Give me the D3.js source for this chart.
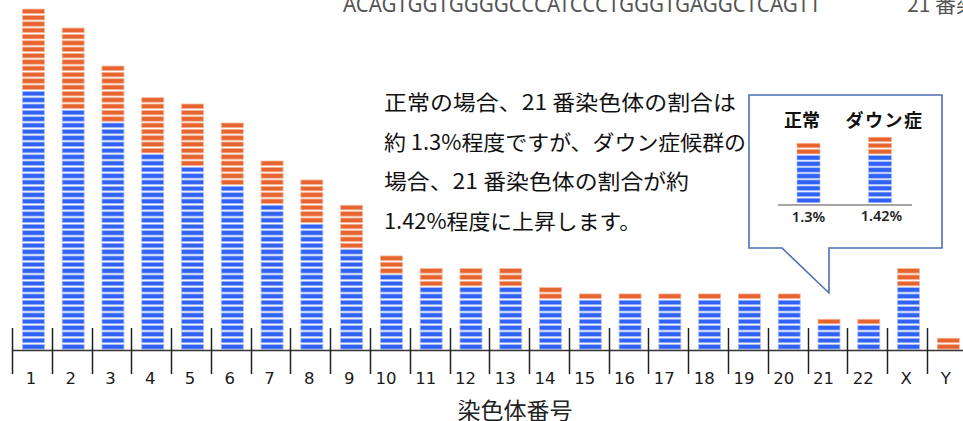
<!DOCTYPE html>
<html><head><meta charset="utf-8">
<script src="https://cdn.jsdelivr.net/npm/d3@7/dist/d3.min.js"></script>
<style>
html,body{margin:0;padding:0;background:#fff;}
svg{display:block;}
</style></head>
<body>
<svg id="chart" width="963" height="421"></svg>
<script>
const categories = ["1","2","3","4","5","6","7","8","9","10","11","12","13","14","15","16","17","18","19","20","21","22","X","Y"];
const blueUnits   = [41,38,36,31,29,26,23,20,16,12,10,10,10,8,8,8,8,8,8,8,4,4,10,0];
const orangeUnits = [13,13,9,9,10,10,7,7,7,3,3,3,3,2,1,1,1,1,1,1,1,1,3,2];
const axisTitle = "染色体番号";
const topSequence = "ACAGTGGTGGGGCCCATCCCTGGGTGAGGCTCAGTT";
const topSuffix = "21 番染色体";
const annotationLines = [
  "正常の場合、21 番染色体の割合は",
  "約 1.3%程度ですが、ダウン症候群の",
  "場合、21 番染色体の割合が約",
  "1.42%程度に上昇します。"
];
const annotationWidths = [352, 362, 305, 257];
const miniCategories = ["正常","ダウン症"];
const miniBlue = [8,8];
const miniOrange = [2,3];
const miniLabels = ["1.3%","1.42%"];

const BLUE = "#3063f5", ORANGE = "#e8642e";
const svg = d3.select("#chart");

// top cut-off text
svg.append("text").attr("x",343).attr("y",11.5).attr("font-family","Noto Sans, sans-serif")
  .attr("font-size",21).attr("fill","#555").attr("textLength",478).attr("lengthAdjust","spacingAndGlyphs")
  .text(topSequence);
svg.append("text").attr("x",907).attr("y",11.5).attr("font-family","Noto Sans CJK JP, Noto Sans, sans-serif")
  .attr("font-size",21).attr("fill","#555").text(topSuffix);

// main scales
const x = d3.scaleBand().domain(categories).range([12, 12 + 24*39.78]).padding(0);
const maxUnits = 54;
const y = d3.scaleLinear().domain([0, maxUnits]).range([350, 350 - maxUnits*6.33]);
const barW = 22;

const rows = [];
categories.forEach((c,i)=>{
  for(let k=0;k<blueUnits[i];k++) rows.push({c, k, color:BLUE});
  for(let k=0;k<orangeUnits[i];k++) rows.push({c, k:blueUnits[i]+k, color:ORANGE});
});
svg.append("g").selectAll("rect").data(rows).join("rect")
  .attr("x", d => x(d.c) + (x.bandwidth()-barW)/2 + 1.5)
  .attr("width", barW)
  .attr("y", d => y(d.k+1) + 0.9)
  .attr("height", d => y(d.k) - y(d.k+1) - 1.8)
  .attr("fill", d => d.color)
  .attr("stroke", d => d.color === BLUE ? "#a9bcf8" : "#f4b59a")
  .attr("stroke-width", 0.8);

// axis line and ticks
svg.append("line").attr("x1",12).attr("x2",963).attr("y1",350.5).attr("y2",350.5)
  .attr("stroke","#333").attr("stroke-width",1.5);
svg.append("g").selectAll("line").data(categories).join("line")
  .attr("x1", d => Math.round(x(d))+0.5).attr("x2", d => Math.round(x(d))+0.5)
  .attr("y1", 328).attr("y2", 374)
  .attr("stroke","#222").attr("stroke-width",1.5);
svg.append("g").selectAll("text").data(categories).join("text")
  .attr("x", d => x(d) + x.bandwidth()/2 + (d.length>1 ? -4 : -1))
  .attr("y", 383.5)
  .attr("text-anchor","middle")
  .attr("font-family","DejaVu Sans, sans-serif").attr("font-size",16.5).attr("fill","#1a1a1a")
  .text(d => d);

svg.append("text").attr("x",515).attr("y",419).attr("text-anchor","middle")
  .attr("font-family","Noto Sans CJK JP, sans-serif").attr("font-size",23).attr("fill","#222")
  .text(axisTitle);

// annotation text
svg.append("g").selectAll("text").data(annotationLines).join("text")
  .attr("x",384).attr("y",(d,i)=> 110 + i*39.5)
  .attr("font-family","Noto Sans CJK JP, sans-serif").attr("font-size",21).attr("fill","#111")
  .attr("textLength",(d,i)=>annotationWidths[i]).attr("lengthAdjust","spacingAndGlyphs")
  .text(d=>d);

// callout box with pointer
const bx0=749, by0=95, bx1=942, by1=248;
const path = d3.path();
path.moveTo(782, by1); path.lineTo(bx0, by1); path.lineTo(bx0, by0); path.lineTo(bx1, by0);
path.lineTo(bx1, by1); path.lineTo(829, by1); path.lineTo(829, 293); path.closePath();
svg.append("path").attr("d", path.toString()).attr("fill","#fff")
  .attr("stroke","#4a6fb3").attr("stroke-width",1.6).attr("stroke-linejoin","miter");

// mini chart
const mx = d3.scalePoint().domain(miniCategories).range([808.5, 880]);
const my = d3.scaleLinear().domain([0, 11]).range([203.5, 203.5 - 11*6.1]);
const miniW = 23;
const miniRows = [];
miniCategories.forEach((c,i)=>{
  for(let k=0;k<miniBlue[i];k++) miniRows.push({c,k,color:BLUE});
  for(let k=0;k<miniOrange[i];k++) miniRows.push({c,k:miniBlue[i]+k,color:ORANGE});
});
svg.append("g").selectAll("rect").data(miniRows).join("rect")
  .attr("x", d => mx(d.c) - miniW/2).attr("width", miniW)
  .attr("y", d => my(d.k+1)+0.8).attr("height", d => my(d.k)-my(d.k+1)-1.6)
  .attr("fill", d=>d.color)
  .attr("stroke", d => d.color === BLUE ? "#a9bcf8" : "#f4b59a").attr("stroke-width",0.7);
svg.append("line").attr("x1",778).attr("x2",912).attr("y1",205).attr("y2",205)
  .attr("stroke","#a6a6a6").attr("stroke-width",1.8);
svg.append("g").selectAll("text").data(miniCategories).join("text")
  .attr("x", (d,i)=> i===0 ? 802 : 884.5).attr("y",126.5).attr("text-anchor","middle")
  .attr("font-family","Noto Sans CJK JP, sans-serif").attr("font-weight",700).attr("font-size",18)
  .attr("letter-spacing",(d,i)=> i===0 ? 0 : 1.5)
  .attr("fill","#111").text(d=>d);
svg.append("g").selectAll("text").data(miniLabels).join("text")
  .attr("x", (d,i)=> mx(miniCategories[i]) + (i===0?0:1.5)).attr("y",(d,i)=> i===0 ? 222 : 220.5)
  .attr("text-anchor","middle")
  .attr("font-family","Noto Sans, sans-serif").attr("font-weight",600).attr("font-size",14.5)
  .attr("fill","#222").text(d=>d);
</script>
</body></html>
